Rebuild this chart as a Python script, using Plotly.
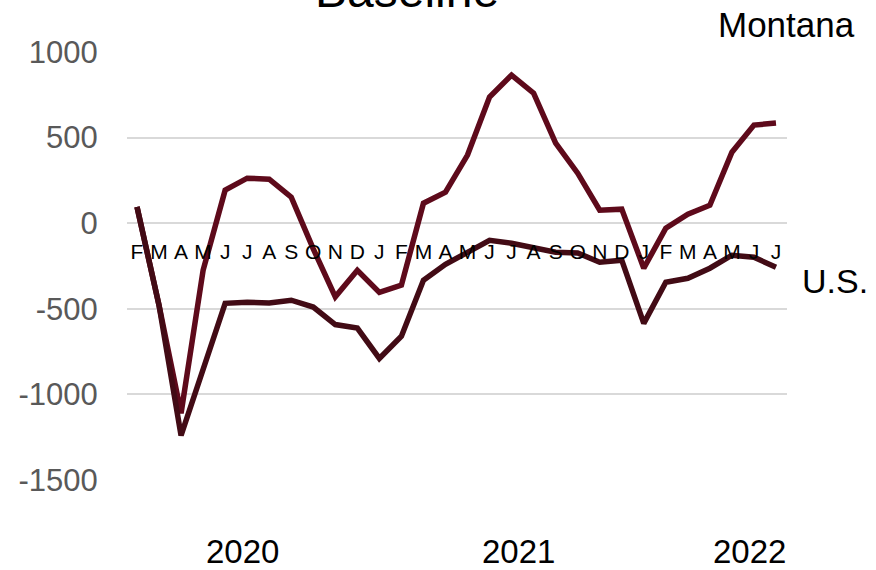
import plotly.graph_objects as go

# Monthly change, Feb 2020 - Jul 2022
months = ["F", "M", "A", "M", "J", "J", "A", "S", "O", "N", "D",
          "J", "F", "M", "A", "M", "J", "J", "A", "S", "O", "N", "D",
          "J", "F", "M", "A", "M", "J", "J"]
montana = [95, -480, -1110, -275, 193, 263, 257, 152, -150, -430, -275,
           -404, -362, 117, 181, 398, 737, 865, 760, 468, 292, 76, 82,
           -263, -29, 53, 105, 415, 573, 585]
us = [95, -480, -1240, -850, -468, -462, -466, -450, -490, -592, -613,
      -790, -660, -333, -240, -170, -100, -117, -140, -170, -174, -228, -216,
      -585, -345, -322, -263, -187, -199, -257]
years = ["2020", "2021", "2022"]
y_ticks = [1000, 500, 0, -500, -1000, -1500]
y_ticktext = ["1000", "500", "0", "-500", "-1000", "-1500"]

idx = list(range(len(months)))
year_x = [4.8, 17.3, 27.8]

FONT = "Liberation Sans, Arial, sans-serif"
MT_COLOR = "#5e0a1b"
US_COLOR = "#420b15"

fig = go.Figure()
fig.add_trace(go.Scatter(x=idx, y=montana, mode="lines", name="Montana",
                         line=dict(color=MT_COLOR, width=5.5)))
fig.add_trace(go.Scatter(x=idx, y=us, mode="lines", name="U.S.",
                         line=dict(color=US_COLOR, width=5.5)))

# plot area in pixels: left 127, right 787, top 52, bottom 480
def px(p):
    return (p - 127) / 660.0


def py(p):
    return (480 - p) / 428.0


def label(text, x, y, size):
    return dict(text=text, x=px(x), xref="paper", y=py(y), yref="paper",
                xanchor="center", yanchor="middle", showarrow=False,
                font=dict(family=FONT, size=size, color="black"))


annotations = [
    label("Baseline", 407, -10, 48),
    label("Montana", 786, 24, 35),
    label("U.S.", 835, 281, 34),
]
for yr, xv in zip(years, year_x):
    annotations.append(dict(text=yr, x=xv, xref="x", y=py(551), yref="paper",
                            xanchor="center", yanchor="middle",
                            showarrow=False,
                            font=dict(family=FONT, size=33, color="black")))

fig.update_layout(
    width=876, height=570,
    margin=dict(l=127, r=89, t=52, b=90, autoexpand=False),
    paper_bgcolor="white", plot_bgcolor="white",
    showlegend=False,
    annotations=annotations,
    xaxis=dict(
        range=[-0.454, 29.5],
        tickmode="array", tickvals=idx, ticktext=months,
        anchor="free", position=0.6,
        showgrid=False, zeroline=False, showline=False,
        ticks="outside", ticklen=10, tickcolor="rgba(0,0,0,0)",
        tickfont=dict(family=FONT, size=21, color="black"),
        tickangle=0,
    ),
    yaxis=dict(
        range=[-1500, 1000],
        tickmode="array", tickvals=y_ticks, ticktext=y_ticktext,
        showgrid=True, gridcolor="#d9d9d9", gridwidth=2,
        zeroline=False, showline=False,
        ticks="outside", ticklen=22, tickcolor="rgba(0,0,0,0)",
        tickfont=dict(family=FONT, size=31, color="#595959"),
    ),
)

fig.write_html("out.html")
